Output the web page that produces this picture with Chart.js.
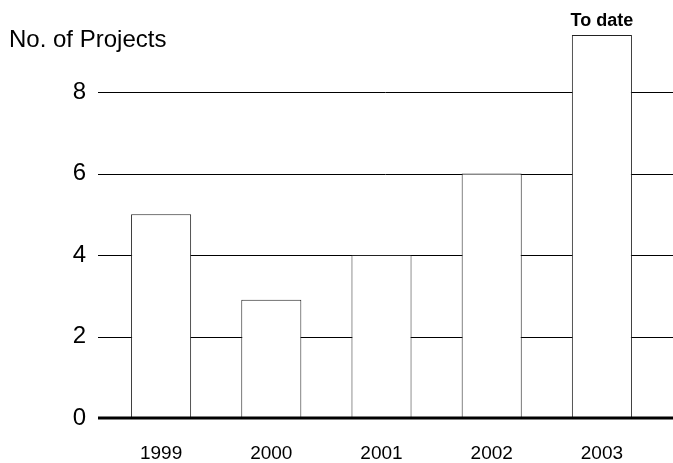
<!DOCTYPE html>
<html>
<head>
<meta charset="utf-8">
<script src="https://cdn.jsdelivr.net/npm/chart.js@4/dist/chart.umd.min.js"></script>
<style>
  body { margin: 0; background: #fff; }
  #wrap { width: 673px; height: 463px; position: relative; }
</style>
</head>
<body>
<div id="wrap"><canvas id="projChart"></canvas></div>
<script>
const years = ['1999', '2000', '2001', '2002', '2003'];
const projects = [5, 2.9, 4, 6, 9.4];
const barNotes = ['', '', '', '', 'To date'];
const yTitle = 'No. of Projects';

const FONT = '"Liberation Sans", Arial, sans-serif';

// horizontal rules run from the tick labels to the right edge of the page
const ruleLines = {
  id: 'ruleLines',
  beforeDatasetsDraw(chart) {
    const ctx = chart.ctx;
    const y = chart.scales.y;
    ctx.save();
    ctx.strokeStyle = '#000';
    ctx.lineWidth = 1;
    y.ticks.forEach(t => {
      if (t.value === 0 || t.value % 2 !== 0) return;
      const py = Math.round(y.getPixelForValue(t.value)) + 0.5;
      ctx.beginPath();
      ctx.moveTo(98, py);
      ctx.lineTo(chart.width, py);
      ctx.stroke();
    });
    ctx.restore();
  },
  afterDatasetsDraw(chart) {
    const ctx = chart.ctx;
    const y = chart.scales.y;
    ctx.save();
    // zero line
    const py = y.getPixelForValue(0);
    ctx.strokeStyle = '#000';
    ctx.lineWidth = 3;
    ctx.beginPath();
    ctx.moveTo(98, py);
    ctx.lineTo(chart.width, py);
    ctx.stroke();

    // axis title
    ctx.fillStyle = '#000';
    ctx.font = '24px ' + FONT;
    ctx.textAlign = 'left';
    ctx.textBaseline = 'middle';
    ctx.fillText(yTitle, 9, 40);

    // note above bars
    const meta = chart.getDatasetMeta(0);
    ctx.font = 'bold 18px ' + FONT;
    ctx.textAlign = 'center';
    ctx.textBaseline = 'bottom';
    meta.data.forEach((bar, i) => {
      if (barNotes[i]) ctx.fillText(barNotes[i], bar.x, bar.y - 5);
    });
    ctx.restore();
  }
};

new Chart(document.getElementById('projChart'), {
  type: 'bar',
  data: {
    labels: years,
    datasets: [{
      data: projects,
      backgroundColor: '#fff',
      borderColor: '#222',
      borderWidth: 1,
      borderSkipped: 'bottom',
      barPercentage: 0.545,
      categoryPercentage: 1
    }]
  },
  options: {
    responsive: true,
    maintainAspectRatio: false,
    animation: false,
    layout: { padding: { top: 31, right: 16, left: 0, bottom: 0 } },
    plugins: {
      legend: { display: false },
      tooltip: { enabled: false }
    },
    scales: {
      x: {
        grid: { display: false, drawTicks: false },
        border: { display: false },
        ticks: { color: '#000', padding: 24, font: { family: FONT, size: 19 } },
        afterFit(scale) { scale.height = 45; }
      },
      y: {
        min: 0,
        max: 9.5,
        grid: { display: false, drawTicks: false },
        border: { display: false },
        ticks: {
          stepSize: 2,
          color: '#000',
          padding: 20,
          font: { family: FONT, size: 24 },
          callback: v => (v % 2 === 0 ? v : '')
        },
        afterFit(scale) {
          scale.width = 106;
          scale.paddingTop = 0;
          scale.paddingBottom = 0;
        }
      }
    }
  },
  plugins: [ruleLines]
});
</script>
</body>
</html>
